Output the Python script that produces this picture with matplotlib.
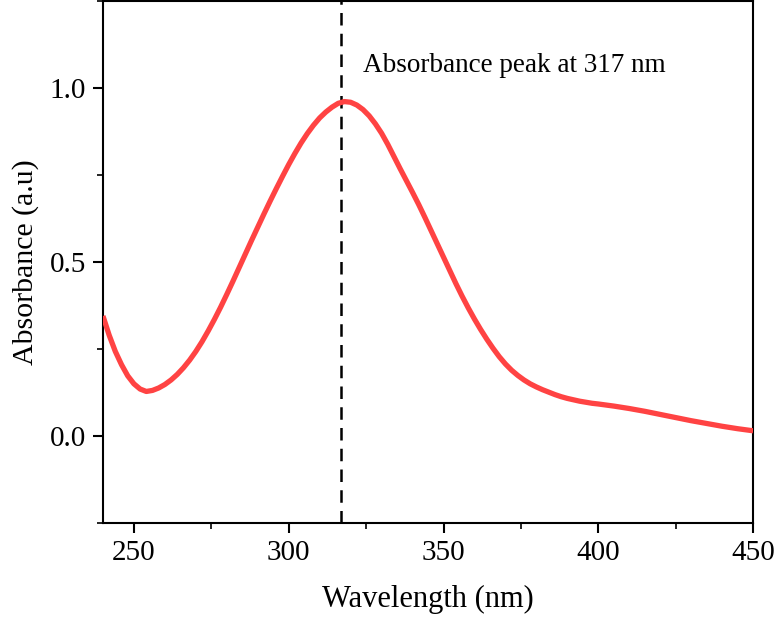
import matplotlib
matplotlib.use("Agg")
import matplotlib.pyplot as plt
from matplotlib.ticker import MultipleLocator, FormatStrFormatter

wavelength = [240, 242, 244, 246, 248, 250, 252, 254, 256, 258, 260, 262, 264, 266, 268, 270,
              272, 274, 276, 278, 280, 282, 284, 286, 288, 290, 292, 294, 296, 298, 300, 302,
              304, 306, 308, 310, 312, 314, 316, 318, 320, 322, 324, 326, 328, 330, 332, 334,
              336, 338, 340, 342, 344, 346, 348, 350, 352, 354, 356, 358, 360, 362, 364, 366,
              368, 370, 372, 374, 376, 378, 380, 382, 384, 386, 388, 390, 392, 394, 396, 398,
              400, 405, 410, 415, 420, 425, 430, 435, 440, 445, 450]
absorbance = [0.345, 0.290, 0.243, 0.205, 0.173, 0.150, 0.135, 0.128, 0.131, 0.138, 0.148, 0.161,
              0.177, 0.196, 0.218, 0.243, 0.271, 0.302, 0.335, 0.370, 0.407, 0.445, 0.484, 0.523,
              0.562, 0.600, 0.638, 0.675, 0.711, 0.746, 0.780, 0.812, 0.842, 0.869, 0.893, 0.914,
              0.931, 0.945, 0.956, 0.961, 0.959, 0.951, 0.938, 0.920, 0.897, 0.870, 0.838, 0.803,
              0.768, 0.734, 0.700, 0.665, 0.628, 0.590, 0.552, 0.514, 0.476, 0.438, 0.402, 0.368,
              0.336, 0.306, 0.278, 0.252, 0.228, 0.207, 0.189, 0.174, 0.161, 0.150, 0.141, 0.133,
              0.126, 0.119, 0.113, 0.108, 0.104, 0.100, 0.097, 0.094, 0.092, 0.086, 0.079, 0.071,
              0.062, 0.053, 0.044, 0.036, 0.028, 0.021, 0.015]
peak_wavelength = 317
annotation = "Absorbance peak at 317 nm"

plt.rcParams['font.family'] = ['Liberation Serif', 'DejaVu Serif']

fig = plt.figure(figsize=(7.74, 6.18), dpi=100)
ax = fig.add_axes([0.133, 0.1537, 0.840, 0.8447])

ax.plot(wavelength, absorbance, color='#FF4343', lw=3.8, solid_capstyle='butt',
        solid_joinstyle='round', zorder=3)
ax.axvline(peak_wavelength, color='black', lw=1.8, dashes=(5, 3.3), zorder=2)
ax.text(324.1, 1.046, annotation, fontsize=19.5, va='baseline', ha='left')

ax.set_xlim(240, 450)
ax.set_ylim(-0.25, 1.25)
ax.xaxis.set_major_locator(MultipleLocator(50))
ax.xaxis.set_minor_locator(MultipleLocator(25))
ax.yaxis.set_major_locator(MultipleLocator(0.5))
ax.yaxis.set_minor_locator(MultipleLocator(0.25))
ax.yaxis.set_major_formatter(FormatStrFormatter('%.1f'))

for s in ax.spines.values():
    s.set_linewidth(1.5)
    s.set_color('black')
ax.tick_params(which='major', direction='out', length=7, width=1.5, labelsize=21, pad=5)
ax.tick_params(which='minor', direction='out', length=4, width=1.2)
ax.tick_params(top=False, right=False, which='both')

ax.set_xlabel('Wavelength (nm)', fontsize=22, labelpad=14)
ax.set_ylabel('Absorbance (a.u)', fontsize=21.5, labelpad=8)

fig.savefig('out.png', dpi=100)
